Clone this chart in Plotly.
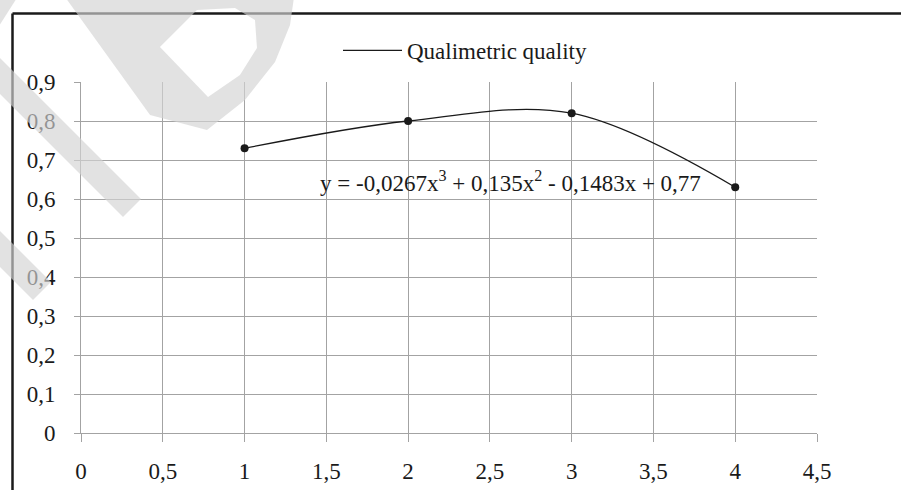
import plotly.graph_objects as go

# ---------------- data ----------------
x_vals = [1, 2, 3, 4]
y_vals = [0.73, 0.80, 0.82, 0.63]
series_name = "Qualimetric quality"
equation = "y = -0,0267x<sup>3</sup> + 0,135x<sup>2</sup> - 0,1483x + 0,77"
x_tick_vals = [0, 0.5, 1, 1.5, 2, 2.5, 3, 3.5, 4, 4.5]
x_tick_text = ["0", "0,5", "1", "1,5", "2", "2,5", "3", "3,5", "4", "4,5"]
y_tick_vals = [0, 0.1, 0.2, 0.3, 0.4, 0.5, 0.6, 0.7, 0.8, 0.9]
y_tick_text = ["0", "0,1", "0,2", "0,3", "0,4", "0,5", "0,6", "0,7", "0,8", "0,9"]

# ---------------- layout geometry ----------------
W, H = 901, 490
L, R, T, B = 81, 84, 82, 57
PW, PH = W - L - R, H - T - B
FONT = "Liberation Serif, Times New Roman, serif"
FS = 23
GRID = "#a3a3a3"
INK = "#1a1a1a"


def pp(px, py):
    return (px - L) / PW, (H - B - py) / PH


def poly_path(pts):
    s = ""
    for i, (a, b) in enumerate(pts):
        xx, yy = pp(a, b)
        s += ("M" if i == 0 else "L") + f"{xx:.4f},{yy:.4f} "
    return s + "Z "


fig = go.Figure()
fig.add_trace(go.Scatter(
    x=x_vals, y=y_vals, mode="lines", name=series_name,
    line=dict(color=INK, width=1.3, shape="spline", smoothing=1.0),
    showlegend=True,
))
fig.add_trace(go.Scatter(
    x=x_vals, y=y_vals, mode="markers", name=series_name,
    marker=dict(color=INK, size=8), showlegend=False,
))

fig.add_annotation(
    x=2.629, y=0.646, xref="x", yref="y", text=equation, showarrow=False,
    xanchor="center", yanchor="middle",
    font=dict(family=FONT, size=FS, color=INK),
)

shapes = []
# chart frame (partially cropped border)
x0, y0 = pp(12.5, 13.5)
x1, _ = pp(905, 13.5)
_, y1 = pp(12.5, 495)
shapes.append(dict(type="line", xref="paper", yref="paper", x0=x0, y0=y0, x1=x1, y1=y0,
                   line=dict(color=INK, width=2.5), layer="above"))
shapes.append(dict(type="line", xref="paper", yref="paper", x0=x0, y0=y0, x1=x0, y1=y1,
                   line=dict(color=INK, width=2.5), layer="above"))

# watermark (light translucent overlay)
wm_fill = "rgba(211,211,211,0.66)"
wm_polys = [
    [(-10, -10), (22, -10), (-10, 40)],
    [(-10, 48), (-10, 84), (123, 217), (141, 199)],
    [(-10, 221), (-10, 257), (33, 300), (51, 282)],
]
for poly in wm_polys:
    shapes.append(dict(type="path", xref="paper", yref="paper", path=poly_path(poly),
                       fillcolor=wm_fill, line=dict(width=0), layer="above"))
d_outer = [(60, -10), (150, 115), (207, 130), (245, 100), (275, 62), (290, 25), (295, -10)]
d_inner = [(160, 47), (208, 97), (240, 75), (257, 48), (255, 20), (235, 8), (197, 10)]
shapes.append(dict(type="path", xref="paper", yref="paper",
                   path=poly_path(d_outer) + poly_path(d_inner), fillrule="evenodd",
                   fillcolor=wm_fill, line=dict(width=0), layer="above"))

lx, ly = pp(338, 29)
fig.update_layout(
    width=W, height=H,
    margin=dict(l=L, r=R, t=T, b=B, pad=0, autoexpand=False),
    paper_bgcolor="white", plot_bgcolor="white",
    separators=", ",
    font=dict(family=FONT, size=FS, color=INK),
    showlegend=True,
    legend=dict(x=lx, y=ly, xanchor="left", yanchor="top", orientation="h",
                bgcolor="rgba(0,0,0,0)", font=dict(family=FONT, size=FS, color=INK),
                itemwidth=59),
    xaxis=dict(range=[0, 4.5], tickvals=x_tick_vals, ticktext=x_tick_text,
               showgrid=True, gridcolor=GRID, gridwidth=1,
               showline=True, linecolor=GRID, linewidth=1,
               ticks="outside", ticklen=8, tickcolor=GRID, tickwidth=1,
               ticklabelstandoff=9, zeroline=False, automargin=False,
               tickfont=dict(family=FONT, size=FS, color=INK)),
    yaxis=dict(range=[0, 0.9], tickvals=y_tick_vals, ticktext=y_tick_text,
               showgrid=True, gridcolor=GRID, gridwidth=1,
               showline=True, linecolor=GRID, linewidth=1,
               ticks="outside", ticklen=6, tickcolor=GRID, tickwidth=1,
               ticklabelstandoff=14, zeroline=False, automargin=False,
               tickfont=dict(family=FONT, size=FS, color=INK)),
    shapes=shapes,
)

fig.write_html("out.html", config={"displayModeBar": False},
               post_script="document.body.style.margin='0';")
